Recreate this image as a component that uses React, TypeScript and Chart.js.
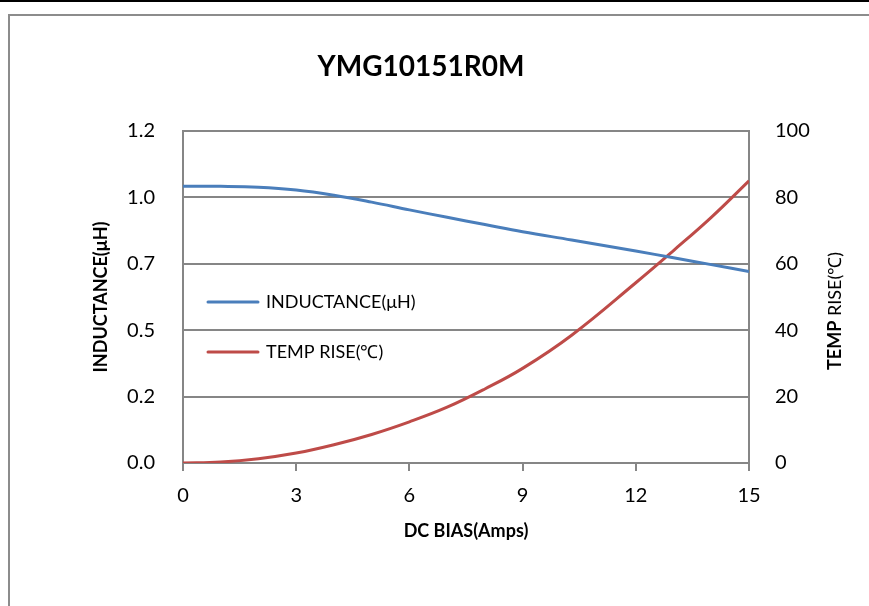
import React, { useEffect, useRef } from "react";
import { Chart, registerables } from "chart.js";

Chart.register(...registerables);

const CHART_TITLE = "YMG10151R0M";
const X_TITLE = "DC BIAS(Amps)";
const LEFT_TITLE = "INDUCTANCE(μH)";
const RIGHT_TITLE_BOLD = "TEMP";
const RIGHT_TITLE_REST = " RISE(℃)";
const SERIES_NAMES = ["INDUCTANCE(μH)", "TEMP RISE(℃)"];

const biasAmps = [0, 1, 2, 3, 4, 5, 6, 7, 8, 9, 10.3, 12, 13, 14, 15];
const inductance = [1.0, 1.0, 0.997, 0.987, 0.968, 0.943, 0.915, 0.888, 0.862, 0.836, 0.806, 0.766, 0.742, 0.717, 0.692];
const tempRise = [0, 0.3, 1.3, 3.0, 5.5, 8.6, 12.4, 16.8, 22.3, 28.5, 38.5, 54.3, 64.0, 74.0, 85.0];

const xTicks = [0, 3, 6, 9, 12, 15];
const leftTicks = [0, 0.24, 0.48, 0.72, 0.96, 1.2];
const rightTicks = [0, 20, 40, 60, 80, 100];

const BLUE = "#4A7EBB";
const RED = "#BE4B48";
const GRID = "#868686";
const FONT = "Lato";

export default function App() {
  const ref = useRef<HTMLCanvasElement | null>(null);

  useEffect(() => {
    document.body.style.margin = "0";
    const canvas = ref.current;
    if (!canvas) return;

    const titlePlugin = {
      id: "customTitle",
      afterDraw(chart: any) {
        const { ctx } = chart;
        ctx.save();
        ctx.font = `bold 28px ${FONT}`;
        ctx.fillStyle = "#000";
        ctx.textAlign = "center";
        ctx.textBaseline = "middle";
        ctx.fillText(CHART_TITLE, 421, 67);
        ctx.restore();
      },
    };

    const legendPlugin = {
      id: "innerLegend",
      afterDatasetsDraw(chart: any) {
        const { ctx, chartArea } = chart;
        ctx.save();
        ctx.font = `18px ${FONT}`;
        ctx.textBaseline = "middle";
        ctx.textAlign = "left";
        chart.data.datasets.forEach((ds: any, i: number) => {
          const y = chartArea.top + 171 + i * 50;
          const x0 = chartArea.left + 25;
          ctx.strokeStyle = ds.borderColor;
          ctx.lineWidth = 3;
          ctx.lineCap = "round";
          ctx.beginPath();
          ctx.moveTo(x0, y);
          ctx.lineTo(x0 + 50, y);
          ctx.stroke();
          ctx.fillStyle = "#000";
          ctx.fillText(ds.label, x0 + 58, y);
        });
        ctx.restore();
      },
    };

    const rightTitlePlugin = {
      id: "rightTitle",
      afterDraw(chart: any) {
        const { ctx, chartArea } = chart;
        ctx.save();
        const cx = chartArea.right + 86;
        const cy = (chartArea.top + chartArea.bottom) / 2 + 14;
        ctx.translate(cx, cy);
        ctx.rotate(-Math.PI / 2);
        ctx.textBaseline = "middle";
        ctx.textAlign = "left";
        ctx.fillStyle = "#000";
        ctx.font = `bold 18px ${FONT}`;
        const w1 = ctx.measureText(RIGHT_TITLE_BOLD).width;
        ctx.font = `18px ${FONT}`;
        const w2 = ctx.measureText(RIGHT_TITLE_REST).width;
        const start = -(w1 + w2) / 2;
        ctx.font = `bold 18px ${FONT}`;
        ctx.fillText(RIGHT_TITLE_BOLD, start, 0);
        ctx.font = `18px ${FONT}`;
        ctx.fillText(RIGHT_TITLE_REST, start + w1, 0);
        ctx.restore();
      },
    };

    const chart = new Chart(canvas, {
      type: "scatter",
      data: {
        datasets: [
          {
            label: SERIES_NAMES[0],
            data: biasAmps.map((x, i) => ({ x, y: inductance[i] })),
            borderColor: BLUE,
            backgroundColor: BLUE,
            borderWidth: 3,
            showLine: true,
            pointRadius: 0,
            tension: 0.4,
            yAxisID: "y",
          },
          {
            label: SERIES_NAMES[1],
            data: biasAmps.map((x, i) => ({ x, y: tempRise[i] })),
            borderColor: RED,
            backgroundColor: RED,
            borderWidth: 3,
            showLine: true,
            pointRadius: 0,
            tension: 0.4,
            yAxisID: "y1",
          },
        ],
      },
      options: {
        responsive: false,
        animation: false,
        layout: { padding: { left: 90, right: 24, top: 131, bottom: 64 } },
        plugins: {
          legend: { display: false },
          tooltip: { enabled: false },
          title: { display: false },
        },
        scales: {
          x: {
            type: "linear",
            min: 0,
            max: 15,
            afterBuildTicks: (s: any) => {
              s.ticks = xTicks.map((v) => ({ value: v }));
            },
            afterFit: (s: any) => {
              s.height = 79;
            },
            grid: {
              drawOnChartArea: false,
              drawTicks: true,
              tickLength: 8,
              color: GRID,
              lineWidth: 2,
            },
            border: { display: true, color: GRID, width: 2 },
            ticks: {
              color: "#000",
              font: { family: FONT, size: 20 },
              padding: 13,
              maxRotation: 0,
            },
            title: {
              display: true,
              text: X_TITLE,
              color: "#000",
              font: { family: FONT, size: 18, weight: "bold" },
              padding: 0,
            },
          },
          y: {
            type: "linear",
            position: "left",
            min: 0,
            max: 1.2,
            afterBuildTicks: (s: any) => {
              s.ticks = leftTicks.map((v) => ({ value: v }));
            },
            afterFit: (s: any) => {
              s.width = 93;
            },
            grid: { color: GRID, lineWidth: 2, drawTicks: false, tickLength: 0 },
            border: { display: true, color: GRID, width: 2 },
            ticks: {
              color: "#000",
              font: { family: FONT, size: 20 },
              padding: 28,
              callback: (v: any) => Number(v).toFixed(1),
            },
            title: {
              display: true,
              text: LEFT_TITLE,
              color: "#000",
              font: { family: FONT, size: 18, weight: "bold" },
              padding: 0,
            },
          },
          y1: {
            type: "linear",
            position: "right",
            min: 0,
            max: 100,
            afterBuildTicks: (s: any) => {
              s.ticks = rightTicks.map((v) => ({ value: v }));
            },
            afterFit: (s: any) => {
              s.width = 96;
            },
            grid: { drawOnChartArea: false, drawTicks: false, tickLength: 0 },
            border: { display: true, color: GRID, width: 2 },
            ticks: {
              color: "#000",
              font: { family: FONT, size: 20 },
              padding: 26,
            },
          },
        },
      },
      plugins: [titlePlugin, legendPlugin, rightTitlePlugin],
    });

    return () => chart.destroy();
  }, []);

  return (
    <div style={{ position: "relative", width: 869, height: 606, background: "#fff", overflow: "hidden" }}>
      <div style={{ position: "absolute", left: 0, top: 0, width: 869, height: 2, background: "#000" }} />
      <div style={{ position: "absolute", left: 8, top: 14, width: 861, height: 2, background: "#8c8c8c" }} />
      <div style={{ position: "absolute", left: 8, top: 14, width: 2, height: 592, background: "#8c8c8c" }} />
      <canvas ref={ref} width={869} height={606} style={{ position: "absolute", left: 0, top: 0 }} />
    </div>
  );
}
